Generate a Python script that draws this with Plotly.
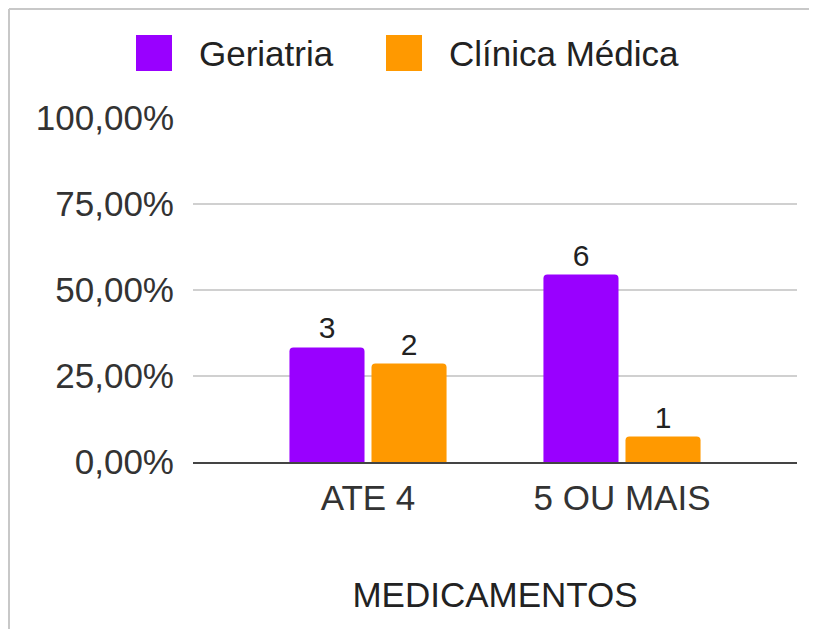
import plotly.graph_objects as go

# Dados
categorias = ["ATE 4", "5 OU MAIS"]
geriatria_pct = [33.3, 54.5]
geriatria_n = [3, 6]
clinica_pct = [28.6, 7.4]
clinica_n = [2, 1]
series = ["Geriatria", "Clínica Médica"]
cores = ["#9900ff", "#ff9900"]
yticks = [0, 25, 50, 75, 100]
yticks_txt = [f"{v:.2f}".replace(".", ",") + "%" for v in yticks]

FONTE = "Liberation Sans, Arial, sans-serif"

# a página tem margem de 8px no body: tudo em coordenadas da figura
OFF = 8
LARG, ALT = 817 - OFF, 629 - OFF
# área do gráfico em pixels (na imagem de referência)
L, T, W, H = 193 - OFF, 118 - OFF, 604, 344


def px(x):
    return (x - OFF - L) / W


def py(y):
    return (T + H - (y - OFF)) / H


fig = go.Figure()
for nome, pct, n, cor in [
    (series[0], geriatria_pct, geriatria_n, cores[0]),
    (series[1], clinica_pct, clinica_n, cores[1]),
]:
    fig.add_trace(go.Bar(
        x=categorias, y=pct, name=nome,
        text=[str(v) for v in n],
        textposition="outside",
        textfont=dict(size=30, color="#222222", family=FONTE),
        marker=dict(color=cor, cornerradius=4, line=dict(width=0)),
        cliponaxis=False,
        showlegend=False,
    ))

# legenda desenhada à mão (quadrados grandes)
shapes = []
annotations = []
for cor, nome, x_sq, x_txt in [(cores[0], series[0], 136, 197), (cores[1], series[1], 386, 447)]:
    shapes.append(dict(type="rect", xref="paper", yref="paper",
                       x0=px(x_sq), x1=px(x_sq + 36), y0=py(71), y1=py(35),
                       fillcolor=cor, line=dict(width=0)))
    annotations.append(dict(xref="paper", yref="paper", x=px(x_txt), y=py(53),
                            xanchor="left", yanchor="middle", showarrow=False,
                            text=nome, font=dict(size=35, color="#222222", family=FONTE)))

# moldura cinza (esquerda e topo)
shapes.append(dict(type="line", xref="paper", yref="paper",
                   x0=px(9), x1=px(9), y0=py(9), y1=py(660),
                   line=dict(color="#c8c8c8", width=2)))
shapes.append(dict(type="line", xref="paper", yref="paper",
                   x0=px(9), x1=px(840), y0=py(9), y1=py(9),
                   line=dict(color="#c8c8c8", width=2)))

fig.update_layout(
    width=LARG, height=ALT,
    margin=dict(l=L, r=LARG - L - W, t=T, b=ALT - T - H, pad=0),
    paper_bgcolor="white", plot_bgcolor="white",
    barmode="group", bargap=0.354, bargroupgap=0.085,
    font=dict(family=FONTE, size=35, color="#333333"),
    shapes=shapes, annotations=annotations,
    xaxis=dict(
        range=[-0.689, 1.689],
        showgrid=False, showline=True, linecolor="#444444", linewidth=2,
        ticks="", ticklabelstandoff=4,
        tickfont=dict(size=35, color="#333333"),
        title=dict(text="MEDICAMENTOS", font=dict(size=35, color="#222222"), standoff=66),
    ),
    yaxis=dict(
        range=[0, 100], tickvals=yticks, ticktext=yticks_txt,
        showgrid=True, gridcolor="#d0d0d0", gridwidth=2,
        zeroline=False, showline=False,
        ticks="", ticklabelstandoff=18,
        tickfont=dict(size=35, color="#333333"),
    ),
)

fig.write_html("out.html")
